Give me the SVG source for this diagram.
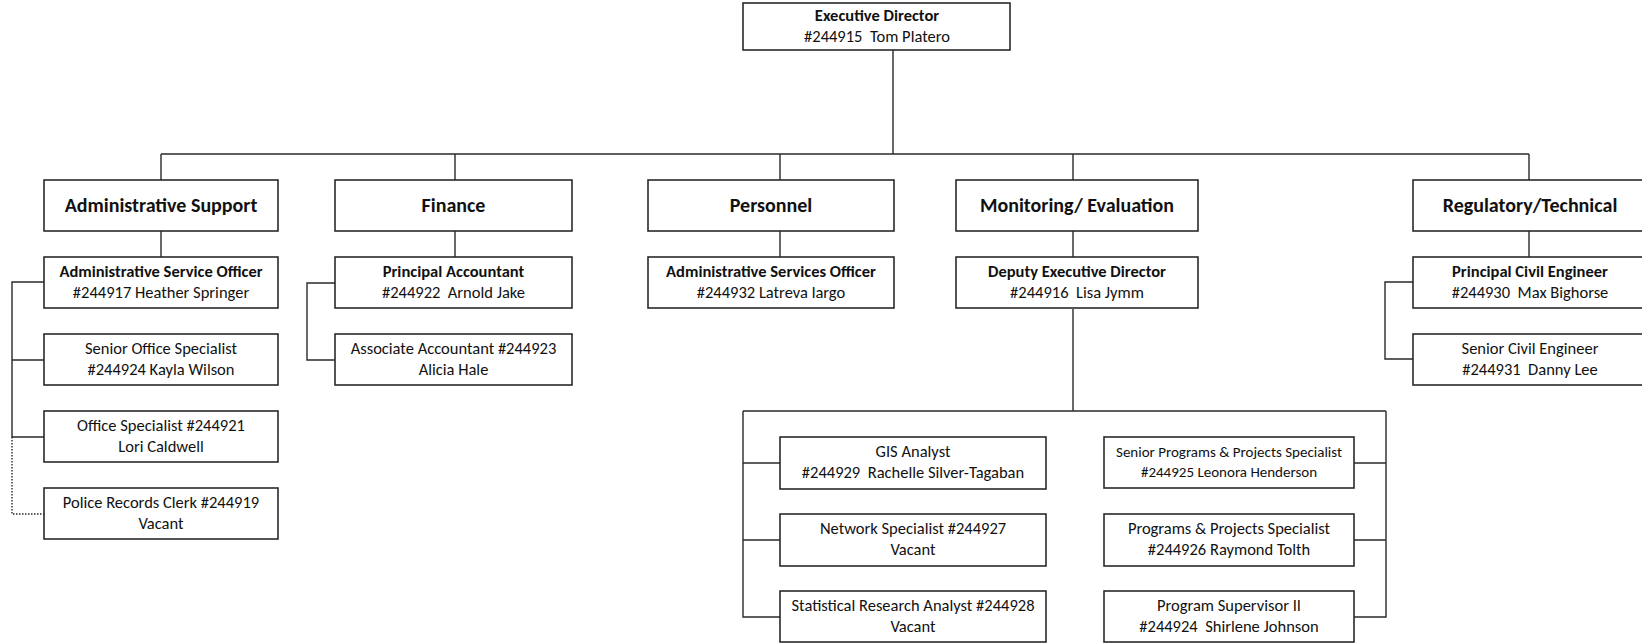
<svg xmlns="http://www.w3.org/2000/svg" width="1642" height="643" viewBox="0 0 1642 643">
<style>
.box{fill:#fff;stroke:#2a2a2a;stroke-width:1.6}
.ln{fill:none;stroke:#2a2a2a;stroke-width:1.4}
.dot{fill:none;stroke:#2a2a2a;stroke-width:1.4;stroke-dasharray:1.5 1.5}
text{font-family:Carlito,Lato,"Liberation Sans",sans-serif;fill:#111;text-anchor:middle}
.h2{font-size:20px;font-weight:bold}
.t{font-size:16.5px}
.b{font-weight:bold}
.s{font-size:15px}
</style>
<rect width="1642" height="643" fill="#fff"/>
<g id="connectors">
<path class="ln" d="M893 50V154M161 154H1529M161 154V180M455 154V180M780 154V180M1073 154V180M1529 154V180"/>
<path class="ln" d="M161 231V257M455 231V257M780 231V257M1073 231V257M1529 231V257"/>
<path class="ln" d="M44 282H12V437H44M12 360H44"/>
<path class="dot" d="M12 437V514H44"/>
<path class="ln" d="M335 283H307V360H335"/>
<path class="ln" d="M1413 282H1385V359H1413"/>
<path class="ln" d="M1073 309V411M743 411H1386M743 411V617H780M743 463H780M743 540H780M1386 411V617H1354M1354 463H1386M1354 540H1386"/>
</g>
<g id="exec"><rect class="box" x="743" y="3" width="267" height="47"/><text class="t b" x="877" y="21">Executive Director</text><text class="t" x="877" y="42" xml:space="preserve">#244915  Tom Platero</text></g>
<g id="admin-support"><rect class="box" x="44" y="180" width="234" height="51"/><text class="h2" x="161" y="212">Administrative Support</text></g>
<g id="finance"><rect class="box" x="335" y="180" width="237" height="51"/><text class="h2" x="453.5" y="212">Finance</text></g>
<g id="personnel"><rect class="box" x="648" y="180" width="246" height="51"/><text class="h2" x="771" y="212">Personnel</text></g>
<g id="monitoring"><rect class="box" x="956" y="180" width="242" height="51"/><text class="h2" x="1077" y="212">Monitoring/ Evaluation</text></g>
<g id="regulatory"><rect class="box" x="1413" y="180" width="234" height="51"/><text class="h2" x="1530" y="212">Regulatory/Technical</text></g>
<g id="aso"><rect class="box" x="44" y="257" width="234" height="51"/><text class="t b" x="161" y="277">Administrative Service Officer</text><text class="t" x="161" y="298">#244917 Heather Springer</text></g>
<g id="sos"><rect class="box" x="44" y="334" width="234" height="51"/><text class="t" x="161" y="354">Senior Office Specialist</text><text class="t" x="161" y="375">#244924 Kayla Wilson</text></g>
<g id="os"><rect class="box" x="44" y="411" width="234" height="51"/><text class="t" x="161" y="431">Office Specialist #244921</text><text class="t" x="161" y="452">Lori Caldwell</text></g>
<g id="prc"><rect class="box" x="44" y="488" width="234" height="51"/><text class="t" x="161" y="508">Police Records Clerk #244919</text><text class="t" x="161" y="529">Vacant</text></g>
<g id="pa"><rect class="box" x="335" y="257" width="237" height="51"/><text class="t b" x="453.5" y="277">Principal Accountant</text><text class="t" x="453.5" y="298" xml:space="preserve">#244922  Arnold Jake</text></g>
<g id="aa"><rect class="box" x="335" y="334" width="237" height="51"/><text class="t" x="453.5" y="354">Associate Accountant #244923</text><text class="t" x="453.5" y="375">Alicia Hale</text></g>
<g id="pers-aso"><rect class="box" x="648" y="257" width="246" height="51"/><text class="t b" x="771" y="277">Administrative Services Officer</text><text class="t" x="771" y="298">#244932 Latreva largo</text></g>
<g id="deputy"><rect class="box" x="956" y="257" width="242" height="51"/><text class="t b" x="1077" y="277">Deputy Executive Director</text><text class="t" x="1077" y="298" xml:space="preserve">#244916  Lisa Jymm</text></g>
<g id="pce"><rect class="box" x="1413" y="257" width="234" height="51"/><text class="t b" x="1530" y="277">Principal Civil Engineer</text><text class="t" x="1530" y="298" xml:space="preserve">#244930  Max Bighorse</text></g>
<g id="sce"><rect class="box" x="1413" y="334" width="234" height="51"/><text class="t" x="1530" y="354">Senior Civil Engineer</text><text class="t" x="1530" y="375" xml:space="preserve">#244931  Danny Lee</text></g>
<g id="gis"><rect class="box" x="780" y="437" width="266" height="52"/><text class="t" x="913" y="457">GIS Analyst</text><text class="t" x="913" y="478" xml:space="preserve">#244929  Rachelle Silver-Tagaban</text></g>
<g id="network"><rect class="box" x="780" y="514" width="266" height="52"/><text class="t" x="913" y="534">Network Specialist #244927</text><text class="t" x="913" y="555">Vacant</text></g>
<g id="stat"><rect class="box" x="780" y="591" width="266" height="51"/><text class="t" x="913" y="611">Statistical Research Analyst #244928</text><text class="t" x="913" y="632">Vacant</text></g>
<g id="spps"><rect class="box" x="1104" y="437" width="250" height="51"/><text class="s" x="1229" y="457">Senior Programs &amp; Projects Specialist</text><text class="s" x="1229" y="477">#244925 Leonora Henderson</text></g>
<g id="pps"><rect class="box" x="1104" y="514" width="250" height="52"/><text class="t" x="1229" y="534">Programs &amp; Projects Specialist</text><text class="t" x="1229" y="555">#244926 Raymond Tolth</text></g>
<g id="ps"><rect class="box" x="1104" y="591" width="250" height="51"/><text class="t" x="1229" y="611">Program Supervisor II</text><text class="t" x="1229" y="632" xml:space="preserve">#244924  Shirlene Johnson</text></g>
</svg>
